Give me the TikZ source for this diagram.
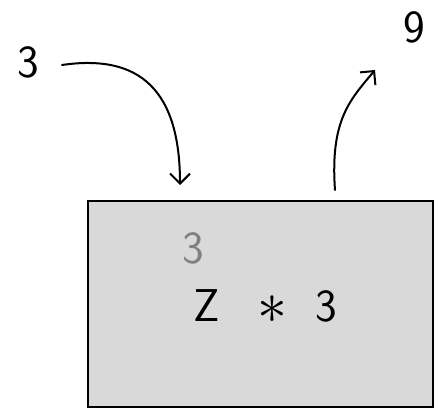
\documentclass[tikz,border=0pt]{standalone}
\usepackage{tikz}
\usetikzlibrary{arrows.meta}
\begin{document}
\begin{tikzpicture}[
            x=1pt,
            y=-1pt,
            every node/.style={
                inner sep=0pt,
                font=\sffamily\fontsize{46}{46}\selectfont
            },
            funbox/.style={
                draw,
                line width=2pt,
                fill=black!15,
                minimum width=345pt,
                minimum height=206pt
            },
            flow/.style={
                line width=2pt,
                line cap=round,
                -{Straight Barb[length=10pt,width=20pt,line width=2pt]}
            }
        ]
            \useasboundingbox (0,0) rectangle (439,417);

            \node[funbox] (box) at (260.5,304) {};
            \node (in) at (28,62) {3};
            \node (out) at (414,27) {9};

            \node[text=black!50] (arg) at (193,248) {3};
            \node (body) at (265,307) {Z\hspace{38pt}\raisebox{-2pt}{\scalebox{2.4}{$\ast$}}\hspace{28pt}3};

            \coordinate (hit) at (180,185);
            \coordinate (up) at (375,70);
            \coordinate (leave) at (335,190);

            \draw[flow] (62,65) .. controls (130,55) and (180,80) .. (hit);
            \draw[flow] (leave) .. controls (330,120) and (350,100) .. (up);
        \end{tikzpicture}
\end{document}
